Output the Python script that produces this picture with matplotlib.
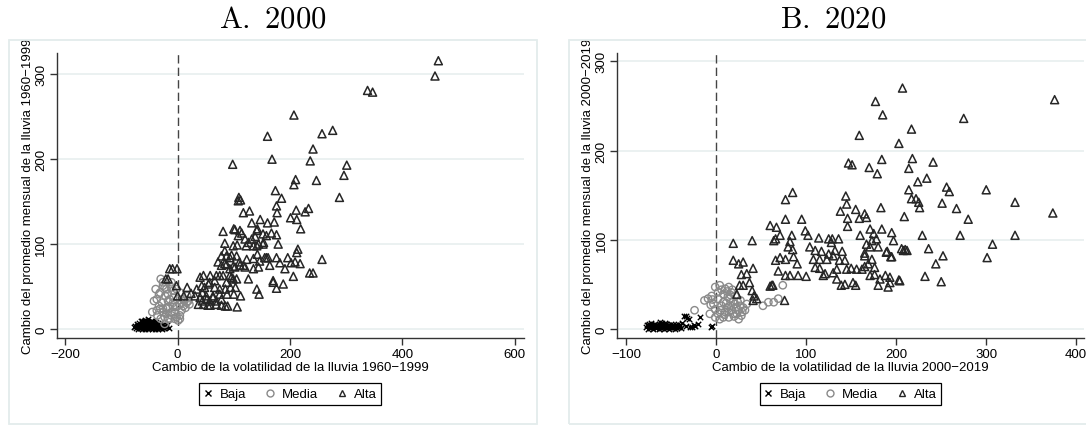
import matplotlib
matplotlib.use('Agg')
import matplotlib.pyplot as plt
from matplotlib.patches import Rectangle
from matplotlib.lines import Line2D

plt.rcParams['font.family'] = ['Liberation Sans', 'DejaVu Sans']
plt.rcParams['mathtext.fontset'] = 'cm'

# ---------------- Panel A: 2000 (changes 1960-1999) ----------------
a_baja_x = [-78, -76, -74, -73, -72, -71, -70, -69, -68, -67, -66, -66, -65, -64, -64, -63,
            -62, -62, -61, -60, -60, -59, -58, -58, -57, -56, -56, -55, -54, -54, -53, -52,
            -52, -51, -50, -50, -49, -48, -48, -47, -46, -46, -45, -44, -44, -43, -42, -41,
            -40, -40, -39, -38, -37, -36, -35, -34, -33, -32, -31, -30, -29, -28, -27, -26,
            -25, -24, -22, -20, -18, -16, -58, -52, -46, -63, -55, -49, -43, -38]
a_baja_y = [2, 4, 1, 6, 3, 0, 5, 2, 7, 1, 4, 9, 2, 6, 0, 3,
            8, 1, 5, 2, 10, 4, 0, 7, 3, 5, 1, 9, 2, 6, 4, 0,
            8, 3, 1, 6, 4, 2, 9, 5, 0, 7, 3, 1, 5, 8, 2, 4,
            0, 6, 3, 1, 5, 2, 7, 0, 4, 2, 6, 1, 3, 0, 5, 2,
            4, 1, 3, 2, 5, 1, 11, 12, 10, 10, 3, 6, 2, 8]

a_media_x = [-30, -26, -20, -11, -8, -42, -33, -45, -36, -26, -20, -14, -5, 1, 4, 7, 10, 17,
             -8, -14, -22, -33, -39, -17, -30, -23, -11, -2, -26, -23, -37, -31, -17, -11,
             -2, 4, 12, 16, 4, -8, -20, -26, -2, -31, -37, -28, -17, -8, -2, 7, 4, -5,
             -17, -11, 10, 19, -23, 21, 14]
a_media_y = [59, 51, 47, 55, 45, 33, 27, 20, 16, 24, 18, 12, 20, 10, 16, 31, 35, 39,
             31, 35, 39, 41, 47, 26, 12, 6, 16, 26, 55, 49, 35, 43, 41, 49,
             47, 43, 33, 31, 29, 26, 24, 20, 14, 24, 22, 31, 33, 37, 27, 22, 12, 12,
             12, 20, 27, 33, 14, 29, 25]

a_alta_x = [464, 458, 338, 347, 207, 160, 257, 276, 241, 236, 168, 98, 301, 296, 247, 210,
            207, 174, 288, 185, 109, 112, 108, 176, 177, 117, 128, 211, 227, 233, 201, 212,
            219, 147, 160, 172, 132, 257, 235, 241,
            81, 100, 111, 108, 114, 84, 99, 106, 120, 126, 132, 138, 141,
            84, 78, 87, 96, 105, 110, 117, 123, 135, 142, 155, 135, 144, 153, 158, 167, 176, 179,
            72, 78, 84, 93, 99, 105, 96, 87, 75, 69,
            40, 46, 58, 66, 55, 43, 34, 31, 40, 52, 63, 69, 78, 89, 37, 46, 58,
            126, 141, 145, 170, 176, 188, 206, 161, 164, 191, 209, 218, 214,
            152, 141, 122, 93, 146, 158, 176, 182, 212, 202, 87, 102, 111, 120, 135, 144,
            81, 93, 99, 170, 48, 57, 66, 75, 85, 94, 103, 112, 100, 88, 75, 63, 51, 44,
            57, 69, 78, 85, 54, 106, 44, 196, 102, 142, 152,
            -14, -9, -1, -21, -17, -2, 0, 11, 17, 24]
a_alta_y = [316, 298, 281, 279, 252, 227, 230, 234, 212, 198, 200, 194, 193, 181, 175, 176,
            170, 163, 155, 154, 155, 152, 151, 145, 137, 137, 139, 140, 138, 142, 131, 129,
            118, 129, 125, 126, 125, 82, 66, 66,
            115, 118, 116, 110, 113, 101, 98, 99, 106, 102, 106, 109, 116,
            92, 86, 86, 87, 86, 79, 75, 82, 83, 88, 84, 98, 100, 102, 110, 113, 111, 100,
            79, 75, 77, 71, 74, 59, 61, 55, 63, 63,
            61, 63, 63, 57, 53, 51, 47, 39, 37, 35, 37, 33, 35, 27, 29, 29, 28,
            59, 47, 41, 55, 48, 53, 62, 84, 75, 71, 79, 77, 94,
            100, 98, 98, 84, 80, 84, 84, 78, 90, 78, 76, 73, 75, 73, 71, 73,
            63, 63, 59, 57, 49, 55, 49, 47, 47, 49, 49, 39, 41, 41, 41, 39, 39, 43,
            33, 29, 28, 27, 28, 26, 33, 84, 117, 118, 112,
            71, 71, 71, 59, 59, 51, 39, 39, 49, 42]

# ---------------- Panel B: 2020 (changes 2000-2019) ----------------
b_baja_x = [-78, -77, -76, -76, -75, -74, -73, -72, -72, -71, -70, -69, -68, -68, -67, -66,
            -65, -64, -64, -63, -62, -61, -60, -60, -59, -58, -57, -56, -56, -55, -54, -53,
            -52, -52, -51, -50, -49, -48, -48, -47, -46, -45, -44, -43, -42, -41, -40, -39,
            -38, -36, -34, -32, -30, -34, -29, -27, -25, -23, -20, -18, -6, -5, -75, -70,
            -62, -57]
b_baja_y = [2, 5, 0, 4, 6, 2, 1, 4, 7, 3, 0, 5, 2, 6, 1, 4,
            3, 0, 6, 2, 5, 1, 3, 7, 2, 0, 4, 1, 6, 3, 2, 5,
            0, 4, 2, 6, 1, 3, 5, 2, 0, 4, 1, 3, 6, 2, 4, 1,
            7, 15, 14, 12, 11, 3, 2, 2, 4, 3, 6, 13, 2, 3, 3, 2,
            8, 7]

b_media_x = [-24, -13, -9, -5, -1, 4, 10, 14, 17, 21, 27, 30, 25, 19, 14, 8, 2, -1, -3, 2,
             8, 15, 21, 12, 6, 17, 23, 28, 32, 4, 14, 25, 34, 2, 8, -7, -1, 52, 58, 64,
             69, 74, 11, 16, 19, 5, 10, 13, 18, 22, 27, 6, -6, 12, 20, 9, 16, 24, -4, 29]
b_media_y = [21, 32, 34, 37, 47, 49, 45, 47, 41, 37, 32, 24, 21, 17, 13, 13, 17, 22, 28, 34,
             39, 34, 28, 24, 26, 21, 17, 15, 21, 11, 19, 11, 28, 41, 30, 17, 13, 26, 30, 30,
             34, 49, 29, 26, 31, 21, 19, 36, 44, 24, 26, 44, 27, 42, 14, 16, 38, 30, 33, 19]

b_alta_x = [207, 177, 376, 185, 275, 217, 159, 203, 147, 151, 184, 218, 241, 170, 179, 214,
            224, 234, 214, 217, 222, 225, 226, 256, 259, 251, 267, 280, 300, 332, 374, 209,
            229, 271, 332, 307, 206, 210, 236, 252, 244, 301, 232, 250, 204, 194, 189, 193,
            85, 77, 144, 145, 138, 155, 146, 146, 165, 167, 159, 183, 77, 95, 60, 67,
            71, 66, 64, 84, 99, 102, 114, 125, 128, 136, 129, 160, 171, 175, 184, 195,
            197, 173, 178, 82, 80, 85, 66, 71, 77, 86, 90, 69, 77, 82, 91, 100,
            60, 63, 104, 110, 117, 125, 132, 140, 108, 115, 123, 130, 137, 143, 110, 115,
            121, 130, 134, 145, 150, 156, 162, 165, 169, 173, 176, 171, 176, 182, 188, 193,
            119, 134, 143, 152, 139, 155, 167, 171, 165, 165, 180, 190, 195, 208, 212, 203,
            191, 180, 19, 40, 19, 25, 30, 41, 26, 30, 37, 28, 34, 40, 42, 45,
            41, 62, 76, 23]
b_alta_y = [270, 255, 257, 240, 236, 224, 217, 208, 186, 184, 190, 191, 187, 181, 174, 180,
            165, 169, 156, 146, 146, 142, 136, 159, 154, 141, 135, 123, 156, 142, 130, 126,
            105, 105, 105, 95, 90, 89, 90, 82, 73, 80, 59, 53, 54, 81, 86, 52,
            153, 145, 149, 140, 132, 134, 124, 115, 129, 125, 124, 136, 123, 123, 116, 114,
            105, 101, 99, 105, 110, 105, 102, 101, 97, 101, 101, 105, 112, 107, 112, 108,
            99, 99, 101, 98, 92, 89, 77, 80, 78, 81, 73, 65, 60, 60, 60, 59,
            48, 49, 92, 88, 87, 84, 88, 87, 78, 78, 78, 82, 77, 77, 69, 68,
            62, 63, 67, 67, 68, 67, 67, 70, 73, 78, 69, 60, 61, 56, 60, 58,
            60, 56, 50, 52, 49, 49, 95, 92, 82, 85, 92, 87, 81, 88, 88, 55,
            47, 49, 96, 99, 77, 73, 75, 68, 49, 49, 52, 61, 62, 43, 37, 34,
            32, 49, 32, 39]

legend_labels = ['Baja', 'Media', 'Alta']
panel_titles = ['A. 2000', 'B. 2020']
x_titles = ['Cambio de la volatilidad de la lluvia 1960\u22121999',
            'Cambio de la volatilidad de la lluvia 2000\u22122019']
y_titles = ['Cambio del promedio mensual de la lluvia 1960\u22121999',
            'Cambio del promedio mensual de la lluvia 2000\u22122019']

W, H = 1086, 427
fig = plt.figure(figsize=(W / 100, H / 100), dpi=100)

FRAME = '#e3ecec'
GRID = '#e6eeee'
AXC = '#333333'
FS = 9.5


def fig_box(x0, y0, x1, y1):
    # pixel box (origin top-left) -> figure fraction rect
    return [x0 / W, 1 - y1 / H, (x1 - x0) / W, (y1 - y0) / H]


def draw_panel(i, ax_px, frame_px, xlim, ylim, xticks, baja, media, alta):
    fx0, fy0, fx1, fy1 = frame_px
    r = fig_box(fx0, fy0, fx1, fy1)
    fig.add_artist(Rectangle((r[0], r[1]), r[2], r[3], transform=fig.transFigure,
                             fill=False, edgecolor=FRAME, lw=1.3))
    cx = (fx0 + fx1) / 2
    title = panel_titles[i].replace(' ', r'\ ')
    fig.text(cx / W, 1 - 19 / H, r'$\mathrm{' + title + '}$', fontsize=22,
             ha='center', va='center')

    ax = fig.add_axes(fig_box(*ax_px))
    ax.set_xlim(*xlim)
    ax.set_ylim(*ylim)
    ax.set_xticks(xticks)
    ax.set_yticks([0, 100, 200, 300])
    ax.grid(axis='y', color=GRID, lw=1.1)
    ax.set_axisbelow(True)
    for s in ['top', 'right']:
        ax.spines[s].set_visible(False)
    for s in ['left', 'bottom']:
        ax.spines[s].set_color(AXC)
        ax.spines[s].set_linewidth(1.0)
    ax.tick_params(direction='out', length=5, width=1.0, color=AXC,
                   labelsize=FS, pad=2)
    ax.tick_params(axis='y', labelrotation=90)
    for lab in ax.get_yticklabels():
        lab.set_va('center')

    ax.axvline(0, color='#444444', lw=1.0, ls=(0, (6, 3)), zorder=1)

    ax.scatter(baja[0], baja[1], marker='x', s=15, c='black', linewidths=1.0, zorder=2)
    ax.scatter(media[0], media[1], marker='o', s=28, facecolors='none',
               edgecolors='#8a8a8a', linewidths=1.0, zorder=3)
    ax.scatter(alta[0], alta[1], marker='^', s=33, facecolors='none',
               edgecolors='#262626', linewidths=1.1, zorder=4)

    ax.set_xlabel(x_titles[i], fontsize=FS, labelpad=1)
    ax.set_ylabel(y_titles[i], fontsize=FS, labelpad=1)

    handles = [
        Line2D([], [], ls='none', marker='x', color='black', ms=4, mew=1.0),
        Line2D([], [], ls='none', marker='o', mfc='none', mec='#8a8a8a', ms=5, mew=1.0),
        Line2D([], [], ls='none', marker='^', mfc='none', mec='#262626', ms=5, mew=1.0),
    ]
    lx = (ax_px[0] + ax_px[2]) / 2
    leg = fig.legend(handles, legend_labels, loc='center',
                     bbox_to_anchor=(lx / W, 1 - 395 / H), ncol=3, fontsize=FS,
                     frameon=True, fancybox=False, edgecolor='black', framealpha=1,
                     handlelength=0.6, handletextpad=0.6, columnspacing=1.5,
                     borderpad=0.35)
    leg.get_frame().set_linewidth(0.9)
    return ax


draw_panel(0, (57.1, 54, 523.5, 339), (8.7, 41, 537.4, 425),
           (-214.4, 615.5), (-10.6, 325.1), [-200, 0, 200, 400, 600],
           (a_baja_x, a_baja_y), (a_media_x, a_media_y), (a_alta_x, a_alta_y))
draw_panel(1, (617.4, 54, 1083.8, 339), (569, 41, 1097.7, 425),
           (-109.7, 408.4), (-10.1, 309.3), [-100, 0, 100, 200, 300, 400],
           (b_baja_x, b_baja_y), (b_media_x, b_media_y), (b_alta_x, b_alta_y))

fig.savefig('out.png', dpi=100)
